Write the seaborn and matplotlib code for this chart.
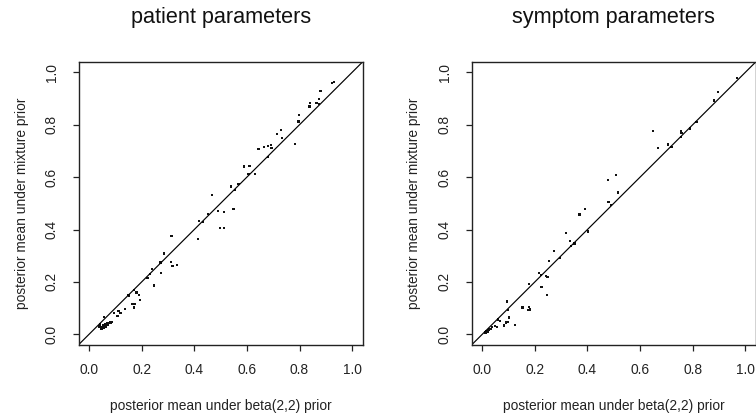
import matplotlib
matplotlib.use("Agg")
import matplotlib.pyplot as plt
import seaborn as sns
import pandas as pd
import numpy as np

# ---- data: patient parameters ----
patient_beta = [0.932, 0.922, 0.880, 0.875, 0.864, 0.873, 0.840, 0.838, 0.798, 0.796,
                0.782, 0.730, 0.715, 0.733, 0.644, 0.665, 0.679, 0.692, 0.693, 0.680,
                0.588, 0.610, 0.606, 0.630, 0.539, 0.554, 0.568, 0.468, 0.549, 0.489,
                0.512, 0.452, 0.418, 0.432, 0.497, 0.512, 0.414, 0.313, 0.285, 0.272,
                0.311, 0.317, 0.333, 0.274, 0.238, 0.231, 0.222, 0.246, 0.171, 0.180,
                0.148, 0.152, 0.190, 0.194, 0.165, 0.174, 0.172, 0.138, 0.096, 0.112,
                0.120, 0.108, 0.056,
                0.040, 0.045, 0.048, 0.050, 0.055, 0.058, 0.060, 0.063, 0.065, 0.068,
                0.072, 0.075, 0.080, 0.083, 0.085, 0.070, 0.052, 0.042]
patient_mix = [0.964, 0.960, 0.930, 0.898, 0.884, 0.879, 0.882, 0.869, 0.838, 0.812,
               0.726, 0.780, 0.765, 0.749, 0.707, 0.715, 0.719, 0.723, 0.711, 0.678,
               0.640, 0.642, 0.611, 0.613, 0.564, 0.551, 0.574, 0.532, 0.478, 0.471,
               0.467, 0.459, 0.433, 0.430, 0.406, 0.406, 0.364, 0.375, 0.308, 0.274,
               0.277, 0.261, 0.265, 0.235, 0.249, 0.230, 0.216, 0.186, 0.169, 0.160,
               0.151, 0.148, 0.150, 0.131, 0.117, 0.117, 0.102, 0.098, 0.080, 0.088,
               0.080, 0.071, 0.066,
               0.030, 0.022, 0.028, 0.020, 0.025, 0.032, 0.030, 0.038, 0.028, 0.042,
               0.040, 0.044, 0.045, 0.043, 0.046, 0.035, 0.035, 0.038]

# ---- data: symptom parameters ----
symptom_beta = [0.967, 0.896, 0.882, 0.814, 0.789, 0.756, 0.757, 0.755, 0.707, 0.719,
                0.669, 0.650, 0.509, 0.477, 0.517, 0.480, 0.488, 0.391, 0.370, 0.401,
                0.317, 0.334, 0.351, 0.338, 0.273, 0.254, 0.295, 0.216, 0.223, 0.243,
                0.248, 0.225, 0.247, 0.177, 0.177, 0.182, 0.176, 0.153, 0.095, 0.097,
                0.101, 0.099, 0.091, 0.125, 0.082, 0.068, 0.061, 0.057, 0.048, 0.037,
                0.033,
                0.010, 0.013, 0.015, 0.017, 0.019, 0.021, 0.023, 0.025, 0.028, 0.012,
                0.016, 0.020]
symptom_mix = [0.978, 0.926, 0.892, 0.810, 0.785, 0.774, 0.767, 0.752, 0.724, 0.716,
               0.712, 0.777, 0.608, 0.589, 0.541, 0.506, 0.494, 0.478, 0.457, 0.392,
               0.387, 0.356, 0.347, 0.338, 0.318, 0.280, 0.290, 0.235, 0.226, 0.224,
               0.218, 0.181, 0.150, 0.192, 0.104, 0.095, 0.093, 0.102, 0.125, 0.093,
               0.064, 0.048, 0.045, 0.036, 0.034, 0.052, 0.057, 0.029, 0.033, 0.029,
               0.019,
               0.006, 0.008, 0.010, 0.009, 0.012, 0.013, 0.015, 0.017, 0.020, 0.007,
               0.011, 0.010]

titles = ["patient parameters", "symptom parameters"]
xlabel = "posterior mean under beta(2,2) prior"
ylabel = "posterior mean under mixture prior"
tick_values = [0.0, 0.2, 0.4, 0.6, 0.8, 1.0]
tick_labels = ["0.0", "0.2", "0.4", "0.6", "0.8", "1.0"]

sns.set_theme(style="white")
plt.rcParams['font.family'] = ['Liberation Sans', 'DejaVu Sans']

fig = plt.figure(figsize=(7.56, 4.19), dpi=100)
W, H = 756.0, 419.0
ax_w = 284.2 / W
ax_h = 283.0 / H
bottom = (H - 344.8) / H
lefts = [78.5 / W, 471.7 / W]

datasets = [(patient_beta, patient_mix), (symptom_beta, symptom_mix)]

for i, (xs, ys) in enumerate(datasets):
    ax = fig.add_axes([lefts[i], bottom, ax_w, ax_h])
    df = pd.DataFrame({"beta": xs, "mix": ys})
    sns.scatterplot(data=df, x="beta", y="mix", ax=ax, marker="s", s=2.6,
                    color="#111111", linewidth=0, edgecolor="none")
    ax.axline((0, 0), slope=1, color="black", lw=0.85)
    ax.set_xlim(-0.04, 1.04)
    ax.set_ylim(-0.04, 1.04)
    ax.set_xticks(tick_values, tick_labels)
    ax.set_yticks(tick_values, tick_labels)
    for sp in ax.spines.values():
        sp.set_visible(True)
        sp.set_color("#222222")
        sp.set_linewidth(1.0)
    ax.tick_params(axis="both", direction="out", length=4.3, width=0.9,
                   color="#222222", labelsize=9.9, labelcolor="#222222")
    ax.tick_params(axis="x", pad=9.0, bottom=True)
    ax.tick_params(axis="y", pad=10.0, left=True)
    for lab in ax.get_yticklabels():
        lab.set_rotation(90)
        lab.set_va("center")
        lab.set_ha("right")
    ax.set_xlabel(xlabel, fontsize=9.9, color="#222222")
    ax.set_ylabel(ylabel, fontsize=9.9, color="#222222")
    ax.xaxis.set_label_coords(0.5, -(406 - 344.8) / 283.0)
    ax.xaxis.label.set_va("center")
    ylab_x = [22.0, 414.0][i]
    ax.yaxis.set_label_coords((ylab_x - (lefts[i] * W)) / 284.2, 0.5)
    ax.yaxis.label.set_va("center")
    ax.yaxis.label.set_ha("center")
    ax.set_title(titles[i], fontsize=15.6, color="#111111",
                 y=1 + (61.8 - 18.0) / 283.0, va="center", pad=0)

fig.savefig("out.png", dpi=100)
